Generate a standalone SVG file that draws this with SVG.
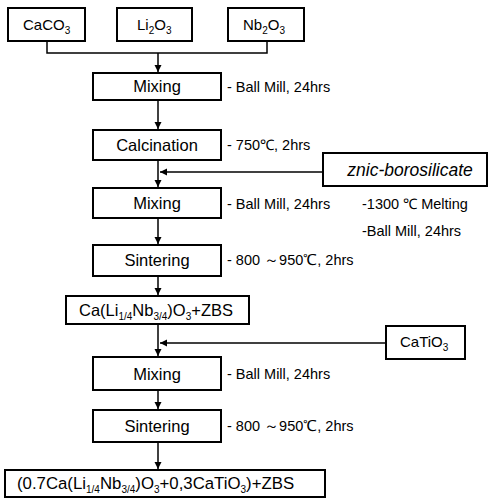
<svg xmlns="http://www.w3.org/2000/svg" width="495" height="499" viewBox="0 0 495 499">
<style>
.box{fill:#fff;stroke:#000;stroke-width:2}
.t{font-family:"Liberation Sans",Arial,sans-serif;fill:#000}
.main{font-size:16.5px;text-anchor:middle}
.side{font-size:14.5px}
.ln{fill:none;stroke:#000;stroke-width:1.5}
</style>
<defs>
<marker id="ah" markerWidth="8" markerHeight="8" refX="7" refY="4" orient="auto" markerUnits="userSpaceOnUse">
<path d="M0,0.5 L7,4 L0,7.5 Z" fill="#000"/>
</marker>
</defs>
<rect width="495" height="499" fill="#fff"/>
<g id="connectors">
<path class="ln" d="M47,41 V53 H267 V41"/>
<path class="ln" d="M158,53 V72" marker-end="url(#ah)"/>
<path class="ln" d="M158,100 V129" marker-end="url(#ah)"/>
<path class="ln" d="M158,160 V187" marker-end="url(#ah)"/>
<path class="ln" d="M323,172 H160" marker-end="url(#ah)"/>
<path class="ln" d="M158,218 V244" marker-end="url(#ah)"/>
<path class="ln" d="M158,276 V295" marker-end="url(#ah)"/>
<path class="ln" d="M158,324 V356" marker-end="url(#ah)"/>
<path class="ln" d="M386,343 H160" marker-end="url(#ah)"/>
<path class="ln" d="M158,390 V409" marker-end="url(#ah)"/>
<path class="ln" d="M158,442 V469" marker-end="url(#ah)"/>
</g>
<g id="caco3">
<rect class="box" x="8" y="8" width="77" height="33"/>
<text class="t" x="23" y="30" font-size="15">CaCO<tspan font-size="10" dy="4">3</tspan></text>
</g>
<g id="li2o3">
<rect class="box" x="117" y="8" width="75" height="33"/>
<text class="t" x="137" y="30" font-size="15">Li<tspan font-size="10" dy="4">2</tspan><tspan dy="-4">O</tspan><tspan font-size="10" dy="4">3</tspan></text>
</g>
<g id="nb2o3">
<rect class="box" x="228" y="8" width="76" height="33"/>
<text class="t" x="243" y="30" font-size="15">Nb<tspan font-size="10" dy="4">2</tspan><tspan dy="-4">O</tspan><tspan font-size="10" dy="4">3</tspan></text>
</g>
<g id="mixing1">
<rect class="box" x="93" y="73" width="128" height="27"/>
<text class="t main" x="157" y="92">Mixing</text>
<text class="t side" x="227" y="92">- Ball Mill, 24hrs</text>
</g>
<g id="calcination">
<rect class="box" x="93" y="130" width="128" height="30"/>
<text class="t main" x="157" y="151">Calcination</text>
<text class="t side" x="227" y="150">- 750℃, 2hrs</text>
</g>
<g id="zbs">
<rect class="box" x="323" y="153" width="164" height="33"/>
<text class="t" x="410" y="176" font-size="17.5" font-style="italic" text-anchor="middle">znic-borosilicate</text>
<text class="t side" x="362" y="209">-1300 ℃ Melting</text>
<text class="t side" x="362" y="236">-Ball Mill, 24hrs</text>
</g>
<g id="mixing2">
<rect class="box" x="93" y="188" width="128" height="30"/>
<text class="t main" x="157" y="209">Mixing</text>
<text class="t side" x="227" y="209">- Ball Mill, 24hrs</text>
</g>
<g id="sintering1">
<rect class="box" x="93" y="245" width="128" height="31"/>
<text class="t main" x="157" y="266">Sintering</text>
<text class="t side" x="227" y="265">- 800 ～950℃, 2hrs</text>
</g>
<g id="calnb">
<rect class="box" x="66" y="296" width="183" height="28"/>
<text class="t" x="79" y="316" font-size="16.5">Ca(Li<tspan font-size="10" dy="4">1/4</tspan><tspan dy="-4">Nb</tspan><tspan font-size="10" dy="4">3/4</tspan><tspan dy="-4">)O</tspan><tspan font-size="10" dy="4">3</tspan><tspan dy="-4">+ZBS</tspan></text>
</g>
<g id="catio3">
<rect class="box" x="386" y="326" width="79" height="33"/>
<text class="t" x="400" y="347" font-size="15">CaTiO<tspan font-size="10" dy="4">3</tspan></text>
</g>
<g id="mixing3">
<rect class="box" x="93" y="357" width="128" height="33"/>
<text class="t main" x="157" y="380">Mixing</text>
<text class="t side" x="227" y="379">- Ball Mill, 24hrs</text>
</g>
<g id="sintering2">
<rect class="box" x="93" y="410" width="128" height="32"/>
<text class="t main" x="157" y="432">Sintering</text>
<text class="t side" x="227" y="431">- 800 ～950℃, 2hrs</text>
</g>
<g id="final">
<rect class="box" x="5" y="470" width="320" height="27"/>
<text class="t" x="17" y="489" font-size="16.8">(0.7Ca(Li<tspan font-size="10" dy="4">1/4</tspan><tspan dy="-4">Nb</tspan><tspan font-size="10" dy="4">3/4</tspan><tspan dy="-4">)O</tspan><tspan font-size="10" dy="4">3</tspan><tspan dy="-4">+0,3CaTiO</tspan><tspan font-size="10" dy="4">3</tspan><tspan dy="-4">)+ZBS</tspan></text>
</g>
</svg>
